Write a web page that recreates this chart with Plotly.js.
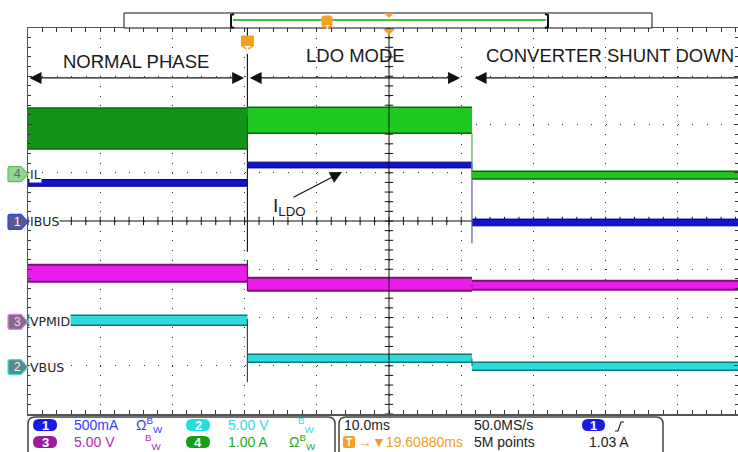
<!DOCTYPE html>
<html><head><meta charset="utf-8">
<script src="https://cdn.plot.ly/plotly-3.0.1.min.js"></script>
<style>html,body{margin:0;padding:0;overflow:hidden;background:#fff}#chart{width:738px;height:452px}</style>
</head><body><div id="chart"></div>
<script>
// ---------------- data ----------------
const phaseNames = ['NORMAL PHASE', 'LDO MODE', 'CONVERTER SHUNT DOWN'];
const phaseBounds = [-31, 0, 31.1, 70];      // ms: record start, trigger, shutdown, record end
const timePerDiv = 10;                        // ms/div
const triggerDelay = 19.6088;                 // ms, screen centre after trigger
const sampleRate = '50.0MS/s';
const recordLength = '5M points';
const triggerLevel = '1.03 A';

const chNumbers = ['1', '2', '3', '4'];
const chNames = ['IBUS', 'VBUS', 'VPMID', 'IL'];
const chScale = [0.5, 5, 5, 1];               // units / div
const chScaleText = ['500mA', '5.00 V', '5.00 V', '1.00 A'];
const chZeroDiv = [-0.02, -3.03, -2.09, 0.97]; // ground marker position (div from centre)

// trace bands per phase (max / min)
const ibusMax = [0.44, 0.62, 0.03];
const ibusMin = [0.37, 0.56, -0.04];
const vbusMax = [5.39, 1.35, 0.52];
const vbusMin = [4.35, 0.52, -0.31];
const vpmidMax = [5.91, 4.56, 4.25];
const vpmidMin = [4.15, 3.21, 3.32];
const ilMax = [1.37, 1.39, 0.06];
const ilMin = [0.52, 0.85, -0.10];

// vertical transition edges [low, high]: at trigger, at shutdown
const ibusEdges = [[-0.31, 2.3], [-0.22, 0.61]];
const vbusEdges = [[-1.55, 5.0], [0.1, 0.9]];
const vpmidEdges = [[3.2, 6.42], [3.6, 3.9]];
const ilEdges = [[0.6, 1.2], [-0.02, 0.85]];

// ---------------- geometry helpers ----------------
const L = 28, T = 28, W = 710, H = 386;
const px = x => (x - L) / W;
const py = y => (T + H - y) / H;
const xr0 = triggerDelay - 5 * timePerDiv;
const xr1 = xr0 + (W / 72.2) * timePerDiv;
const font = 'Liberation Sans, Arial, sans-serif';

function chRange(i) { return [(-4 - chZeroDiv[i]) * chScale[i], (4 - chZeroDiv[i]) * chScale[i]]; }

function bands(axis, mx, mn, fills, edge, ew) {
  const out = [];
  mx.forEach((v, i) => {
    const t0 = phaseBounds[i], t1 = phaseBounds[i + 1];
    out.push({ type: 'scatter', mode: 'lines', yaxis: axis, hoverinfo: 'skip', showlegend: false,
      x: [t0, t1, t1, t0, t0], y: [v, v, mn[i], mn[i], v],
      fill: 'toself', fillcolor: fills[i], line: { width: 0 } });
    out.push({ type: 'scatter', mode: 'lines', yaxis: axis, hoverinfo: 'skip', showlegend: false,
      x: [t0, t1, null, t0, t1], y: [v, v, null, mn[i], mn[i]],
      line: { color: edge, width: ew } });
  });
  return out;
}
function edges(axis, e, colors) {
  return e.map((lh, k) => ({
    type: 'scatter', mode: 'lines', yaxis: axis, hoverinfo: 'skip', showlegend: false,
    x: [phaseBounds[k + 1], phaseBounds[k + 1]], y: lh, line: { color: colors[k], width: 1.2 }
  }));
}

const traces = [].concat(
  bands('y5', ilMax, ilMin, ['#139418', '#1ec81e', '#22c422'], '#076a0b', 1.5),
  edges('y5', ilEdges, ['#0a6a0a', '#4cb04c']),
  bands('y2', ibusMax, ibusMin, ['#1414cc', '#1414cc', '#1414cc'], '#000080', 1),
  edges('y2', ibusEdges, ['#14146e', '#5a5ab4']),
  bands('y4', vpmidMax, vpmidMin, ['#e81ee8', '#e81ee8', '#e81ee8'], '#7a127a', 2),
  edges('y4', vpmidEdges, ['#6a106a', '#8a208a']),
  bands('y3', vbusMax, vbusMin, ['#30dada', '#30dada', '#30dada'], '#0a7a7a', 1.5),
  edges('y3', vbusEdges, ['#0a5a6a', '#0a7a7a'])
);

// crosshair ticks (screen decoration, every 1/5 div)
const hx = [], hy = [], vx = [], vy = [];
for (let k = 0; k <= 50; k++) { hx.push(xr0 + k * timePerDiv / 5); hy.push(0); }
for (let k = 0; k <= 40; k++) { vy.push(-4 + k * 0.2); vx.push(triggerDelay); }
traces.push({ type: 'scatter', mode: 'markers', x: hx, y: hy, hoverinfo: 'skip', showlegend: false,
  marker: { symbol: 'line-ns', size: 6, line: { width: 1, color: '#111' } } });
traces.push({ type: 'scatter', mode: 'markers', x: vx, y: vy, hoverinfo: 'skip', showlegend: false,
  marker: { symbol: 'line-ew', size: 6, line: { width: 1, color: '#111' } } });

// ---------------- shapes ----------------
function rr(x0, y0, x1, y1, r) {
  return `M${px(x0 + r)},${py(y0)} L${px(x1 - r)},${py(y0)} Q${px(x1)},${py(y0)} ${px(x1)},${py(y0 + r)} ` +
    `L${px(x1)},${py(y1 - r)} Q${px(x1)},${py(y1)} ${px(x1 - r)},${py(y1)} L${px(x0 + r)},${py(y1)} ` +
    `Q${px(x0)},${py(y1)} ${px(x0)},${py(y1 - r)} L${px(x0)},${py(y0 + r)} Q${px(x0)},${py(y0)} ${px(x0 + r)},${py(y0)} Z`;
}
function openBox(x0, y0, x1, y1, r) {
  return `M${px(x0)},${py(y1)} L${px(x0)},${py(y0 + r)} Q${px(x0)},${py(y0)} ${px(x0 + r)},${py(y0)} ` +
    `L${px(x1 - r)},${py(y0)} Q${px(x1)},${py(y0)} ${px(x1)},${py(y0 + r)} L${px(x1)},${py(y1)}`;
}
const P = (path, fill, line, lw) => ({ type: 'path', xref: 'paper', yref: 'paper', path, fillcolor: fill || 'rgba(0,0,0,0)', line: { color: line || 'rgba(0,0,0,0)', width: lw || 0 }, layer: 'above' });

const shapes = [
  // centre crosshair
  { type: 'line', xref: 'x', yref: 'paper', x0: triggerDelay, x1: triggerDelay, y0: 0, y1: 1, line: { color: '#111', width: 1 }, layer: 'above' },
  { type: 'line', xref: 'paper', yref: 'y', x0: 0, x1: 1, y0: 0, y1: 0, line: { color: '#111', width: 1 }, layer: 'below' },
  // top record bar
  { type: 'rect', xref: 'paper', yref: 'paper', x0: px(124), x1: px(652), y0: py(28), y1: py(13), line: { color: '#111', width: 1 }, fillcolor: '#fff' },
  { type: 'line', xref: 'paper', yref: 'paper', x0: px(233), x1: px(546), y0: py(20), y1: py(20), line: { color: '#3cc43c', width: 2 } },
  P(`M${px(234)},${py(14)} L${px(231)},${py(15)} L${px(231)},${py(27)} L${px(234)},${py(28)}`, null, '#111', 2),
  P(`M${px(545)},${py(14)} L${px(548)},${py(15)} L${px(548)},${py(27)} L${px(545)},${py(28)}`, null, '#111', 2),
  P(rr(322, 16, 332, 27, 2), '#f5a020', '#f5a020', 1),
  { type: 'path', xref: 'x', xsizemode: 'pixel', xanchor: triggerDelay, yref: 'paper',
    path: `M-5,${py(13)} L5,${py(13)} L0,${py(18)} Z`, fillcolor: '#f5a020', line: { width: 0 }, layer: 'above' },
  { type: 'path', xref: 'x', xsizemode: 'pixel', xanchor: triggerDelay, yref: 'paper',
    path: `M-6,${py(29)} L6,${py(29)} L0,${py(35)} Z`, fillcolor: '#f5a020', line: { width: 0 }, layer: 'above' },
  // trigger marker
  { type: 'path', xref: 'x', xsizemode: 'pixel', xanchor: 0, yref: 'paper',
    path: `M-6,${py(36)} L6,${py(36)} L6,${py(46)} L0,${py(50)} L-6,${py(46)} Z`, fillcolor: '#f5a020', line: { color: '#f5a020', width: 1 }, layer: 'above' },
  // bottom info panel
  P(openBox(28, 417, 335, 470, 7), null, '#444', 1.5),
  P(openBox(339, 417, 663, 470, 7), null, '#444', 1.5),
  P(rr(33, 419, 57, 431, 6), '#1818e8'),
  P(rr(186, 419, 210, 431, 6), '#22dede'),
  P(rr(33, 436, 57, 448, 6), '#9c1c9c'),
  P(rr(186, 436, 210, 448, 6), '#14a014'),
  P(rr(582, 419, 605, 431, 6), '#1818e8'),
  P(rr(343, 436, 355, 448, 2), '#f5a020'),
  P(`M${px(615)},${py(431)} L${px(618)},${py(431)} L${px(621)},${py(422)} L${px(624)},${py(422)}`, null, '#222', 1.2)
];

// channel ground markers
const markFill = ['#5a5a8a', '#5a8a8a', '#8a6a8a', '#90d890'];
const markLine = ['#2244ff', '#40e0e0', '#e080e0', '#60c060'];
const markText = ['#ffffff', '#e0ffff', '#f8d0f8', '#666666'];
const axisIds = ['y2', 'y3', 'y4', 'y5'];
chNames.forEach((n, i) => {
  shapes.push({ type: 'path', xref: 'paper', xsizemode: 'pixel', xanchor: 0, yref: axisIds[i], ysizemode: 'pixel', yanchor: 0,
    path: 'M-18,-7.5 L-7,-7.5 L0,0 L-7,7.5 L-18,7.5 Q-20,7.5 -20,5.5 L-20,-5.5 Q-20,-7.5 -18,-7.5 Z',
    fillcolor: markFill[i], line: { color: markLine[i], width: 1.2 }, layer: 'above' });
});

// ---------------- annotations ----------------
const ann = [];
const A = (o) => ann.push(Object.assign({ showarrow: false, font: { family: font, size: 14, color: '#222' } }, o));

chNames.forEach((n, i) => {
  A({ xref: 'paper', x: 0, xshift: -11, xanchor: 'center', yref: axisIds[i], y: 0, yanchor: 'middle', text: chNumbers[i],
      font: { family: font, size: 12, color: markText[i] } });
  A({ xref: 'paper', x: 0, xshift: 1, xanchor: 'left', yref: axisIds[i], y: 0, yanchor: 'middle', text: n,
      bgcolor: '#fff', borderpad: 0, font: { family: 'DejaVu Sans, sans-serif', size: 12.5, color: '#222' } });
});

// phase headers
const headerX = [(136 - L) / 7.22 + xr0, (355 - L) / 7.22 + xr0, (609.5 - L) / 7.22 + xr0];
const headerY = [3.30, 3.44, 3.44];
phaseNames.forEach((n, i) => A({ xref: 'x', yref: 'y', x: headerX[i], y: headerY[i], text: n,
  font: { family: font, size: 18.5, color: '#1a1a1a' } }));
const arrowSeg = [[xr0, -0.45], [0.1, 29.45], [31.25, 70.2]];
arrowSeg.forEach(s => ann.push({ xref: 'x', yref: 'y', axref: 'x', ayref: 'y', x: s[1], y: 2.965, ax: s[0], ay: 2.965,
  text: '', showarrow: true, arrowhead: 2, startarrowhead: 2, arrowside: 'end+start', arrowsize: 2, startarrowsize: 2,
  arrowwidth: 1.2, arrowcolor: '#111', standoff: 0, startstandoff: 0 }));

// I_LDO label
ann.push({ xref: 'x', yref: 'y2', x: 13.1, y: 0.518, ax: -50, ay: 26, text: '', showarrow: true, arrowhead: 2,
  arrowsize: 2, arrowwidth: 1.2, arrowcolor: '#111', standoff: 0 });
A({ xref: 'x', yref: 'y2', x: 3.3, y: 0.15, xanchor: 'left', yanchor: 'middle', text: 'I<sub>LDO</sub>',
    font: { family: font, size: 19, color: '#1a1a1a' } });

// trigger "T"
A({ xref: 'x', yref: 'paper', x: 0, y: py(42), text: '<b>T</b>', font: { family: font, size: 11, color: '#fff' } });
A({ xref: 'paper', yref: 'paper', x: px(327), y: py(21.5), text: '<b>T</b>', font: { family: font, size: 8, color: '#fff' } });

// bottom panel text
const r1 = py(425), r2 = py(442);
const TX = (x, y, text, color, size, anchor) => A({ xref: 'paper', yref: 'paper', x: px(x), y, xanchor: anchor || 'left', yanchor: 'middle',
  text, font: { family: font, size: size || 14, color } });
TX(45, r1, '<b>' + chNumbers[0] + '</b>', '#fff', 13, 'center');
TX(198, r1, '<b>' + chNumbers[1] + '</b>', '#fff', 13, 'center');
TX(45, r2, '<b>' + chNumbers[2] + '</b>', '#fff', 13, 'center');
TX(198, r2, '<b>' + chNumbers[3] + '</b>', '#fff', 13, 'center');
TX(593.5, r1, '<b>' + chNumbers[0] + '</b>', '#fff', 13, 'center');
TX(72, r1, chScaleText[0], '#3a3aff');
TX(134, r1, 'Ω<sup>B</sup><sub>W</sub>', '#3a3aff');
TX(226, r1, chScaleText[1], '#3ad8d8');
TX(296, r1, '<sup>B</sup><sub>W</sub>', '#3ad8d8');
TX(72, r2, chScaleText[2], '#b02cb0');
TX(143, r2, '<sup>B</sup><sub>W</sub>', '#b02cb0');
TX(226, r2, chScaleText[3], '#22aa22');
TX(287, r2, 'Ω<sup>B</sup><sub>W</sub>', '#22aa22');
TX(342, r1, timePerDiv.toFixed(1) + 'ms', '#222');
TX(472, r1, sampleRate, '#222');
TX(472, r2, recordLength, '#222');
TX(587, r2, triggerLevel, '#222');
TX(349, r2, '<b>T</b>', '#fff', 10, 'center');
TX(356, r2, '→▼' + triggerDelay.toFixed(5) + 'ms', '#f39c1e');

// ---------------- layout ----------------
const chAxis = i => ({ overlaying: 'y', range: chRange(i), visible: false, fixedrange: true });
const layout = {
  width: 738, height: 452,
  margin: { l: L, r: 0, t: T, b: 452 - T - H, pad: 0 },
  paper_bgcolor: '#fff', plot_bgcolor: '#fff', showlegend: false,
  xaxis: { range: [xr0, xr1], tick0: xr0, dtick: timePerDiv, showgrid: true, gridcolor: '#333', gridwidth: 1,
    griddash: '1px,8.65px', zeroline: false, showline: true, linecolor: '#555', linewidth: 1.5, mirror: 'allticks',
    ticks: 'inside', ticklen: 4, tickcolor: '#333', showticklabels: false,
    minor: { tick0: xr0, dtick: timePerDiv / 5, ticks: 'inside', ticklen: 3, tickcolor: '#333', showgrid: false } },
  yaxis: { range: [-4, 4], tick0: 0, dtick: 1, showgrid: true, gridcolor: '#333', gridwidth: 1,
    griddash: '1px,13.44px', zeroline: false, showline: true, linecolor: '#555', linewidth: 1.5, mirror: 'allticks',
    ticks: 'inside', ticklen: 4, tickcolor: '#333', showticklabels: false,
    minor: { tick0: 0, dtick: 0.2, ticks: 'inside', ticklen: 3, tickcolor: '#333', showgrid: false } },
  yaxis2: chAxis(0), yaxis3: chAxis(1), yaxis4: chAxis(2), yaxis5: chAxis(3),
  shapes, annotations: ann
};
Plotly.newPlot('chart', traces, layout, { staticPlot: true, displayModeBar: false });
</script>
</body></html>
